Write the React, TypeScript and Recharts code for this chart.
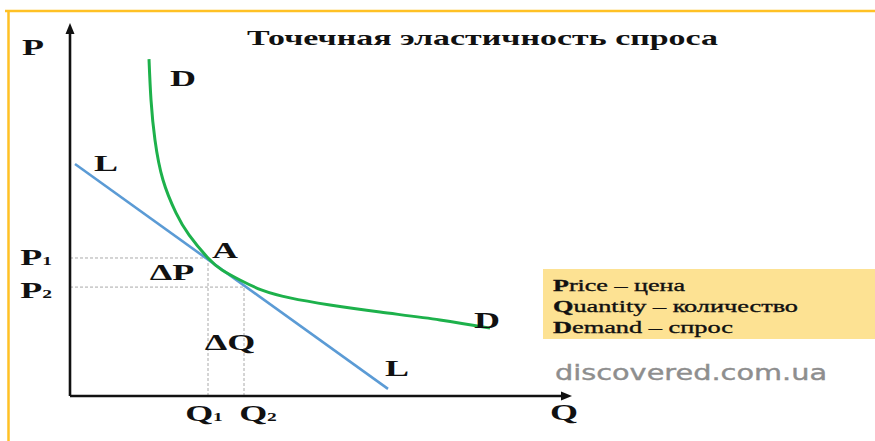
import { ComposedChart, Line, XAxis, YAxis, ReferenceLine, ReferenceDot } from 'recharts';

// point A and its neighbour on the tangent
const q1 = 2.76;
const q2 = 3.48;
const p1 = 3.7;
const p2 = 2.92;

// demand curve D
const demandQ = [1.58, 1.62, 1.7, 1.86, 2.12, 2.38, 2.76, 3.04, 3.4, 3.84, 4.4, 5.2, 6.2, 7.4, 8.4];
const demandP = [9.03, 7.94, 6.86, 5.79, 4.91, 4.32, 3.7, 3.38, 3.11, 2.84, 2.63, 2.44, 2.25, 2.04, 1.82];

// tangent line L
const tangentQ = [0.1, 6.36];
const tangentP = [6.22, 0.19];

const qTicks = [q1, q2];
const qTickNames = ['1', '2'];
const pTicks = [p2, p1];
const pTickNames = ['2', '1'];

const legendTerms = ['Price', 'Quantity', 'Demand'];
const legendWords = ['цена', 'количество', 'спрос'];

const demandData = demandQ.map((q, i) => ({ q, p: demandP[i] }));
const tangentData = tangentQ.map((q, i) => ({ q, p: tangentP[i] }));

const serif = "'Liberation Serif', 'Times New Roman', serif";
const ink = '#111';

const Tag = ({ x, y, text, sub, anchor = 'middle' }: any) => (
  <g transform={`translate(${x},${y}) scale(1.5,1)`}>
    <text
      textAnchor={anchor}
      dominantBaseline="central"
      fontFamily={serif}
      fontWeight="bold"
      fontSize={24}
      fill={ink}
    >
      {text}
      {sub && (
        <tspan fontSize={13} dy={3}>
          {sub}
        </tspan>
      )}
    </text>
  </g>
);

const dotTag = (text: string, dx: number, dy: number) => (props: any) =>
  <Tag x={props.cx + dx} y={props.cy + dy} text={text} />;

const Arrow = ({ x1, y1, x2, y2 }: any) => {
  const ang = Math.atan2(y2 - y1, x2 - x1);
  const len = 11;
  const half = 4.5;
  const bx = x2 - len * Math.cos(ang);
  const by = y2 - len * Math.sin(ang);
  const px = -Math.sin(ang) * half;
  const py = Math.cos(ang) * half;
  return (
    <g>
      <line x1={x1} y1={y1} x2={bx} y2={by} stroke={ink} strokeWidth={2.6} />
      <polygon points={`${x2},${y2} ${bx + px},${by + py} ${bx - px},${by - py}`} fill={ink} />
    </g>
  );
};

const QTick = ({ x, y, index }: any) => (
  <Tag x={x + (index === 0 ? -4 : 14)} y={y + 17} text="Q" sub={qTickNames[index]} />
);

const PTick = ({ x, y, index }: any) => (
  <Tag x={x - 18} y={y + (index === 0 ? 3 : -1)} text="P" sub={pTickNames[index]} anchor="end" />
);

const dash = { stroke: '#aaa', strokeWidth: 1, strokeDasharray: '3 2' };

export default function App() {
  return (
    <div style={{ position: 'absolute', left: 0, top: 0, width: 875, height: 441, background: '#fff' }}>
      <ComposedChart
        width={875}
        height={441}
        margin={{ top: 23, right: 305, left: 0, bottom: 0 }}
      >
        <XAxis
          dataKey="q"
          type="number"
          domain={[0, 10]}
          ticks={qTicks}
          axisLine={false}
          tickLine={false}
          tickSize={0}
          tickMargin={0}
          height={45}
          tick={<QTick />}
        />
        <YAxis
          dataKey="p"
          type="number"
          domain={[0, 10]}
          ticks={pTicks}
          axisLine={false}
          tickLine={false}
          tickSize={0}
          tickMargin={0}
          width={70}
          tick={<PTick />}
        />

        <ReferenceLine segment={[{ x: 0, y: p1 }, { x: q1, y: p1 }]} {...dash} />
        <ReferenceLine segment={[{ x: 0, y: p2 }, { x: q2, y: p2 }]} {...dash} />
        <ReferenceLine segment={[{ x: q1, y: 0 }, { x: q1, y: p1 }]} {...dash} />
        <ReferenceLine segment={[{ x: q2, y: 0 }, { x: q2, y: p2 }]} {...dash} />

        <Line
          data={tangentData}
          dataKey="p"
          type="linear"
          stroke="#5b9bd5"
          strokeWidth={2.6}
          dot={false}
          activeDot={false}
          isAnimationActive={false}
        />
        <Line
          data={demandData}
          dataKey="p"
          type="natural"
          stroke="#1db14b"
          strokeWidth={3}
          dot={false}
          activeDot={false}
          isAnimationActive={false}
        />

        <ReferenceLine segment={[{ x: 0, y: 0 }, { x: 10, y: 0 }]} shape={(p: any) => <Arrow {...p} x2={p.x2 + 2} />} />
        <ReferenceLine segment={[{ x: 0, y: 0 }, { x: 0, y: 10 }]} shape={(p: any) => <Arrow {...p} />} />

        <ReferenceDot x={demandQ[0]} y={demandP[0]} r={0} shape={dotTag('D', 34, 19)} />
        <ReferenceDot x={demandQ[demandQ.length - 1]} y={demandP[demandP.length - 1]} r={0} shape={dotTag('D', -3, -8)} />
        <ReferenceDot x={tangentQ[0]} y={tangentP[0]} r={0} shape={dotTag('L', 31, -1)} />
        <ReferenceDot x={tangentQ[1]} y={tangentP[1]} r={0} shape={dotTag('L', 9, -21)} />
        <ReferenceDot x={q1} y={p1} r={0} shape={dotTag('A', 17, -8)} />
        <ReferenceDot x={q1} y={(p1 + p2) / 2} r={0} shape={dotTag('ΔP', -36, 0)} />
        <ReferenceDot x={(q1 + q2) / 2} y={0} r={0} shape={dotTag('ΔQ', 4, -54)} />
        <ReferenceDot x={10} y={0} r={0} shape={dotTag('Q', -6, 16)} />
        <ReferenceDot x={0} y={10} r={0} shape={dotTag('P', -37, 24)} />
      </ComposedChart>

      <svg
        width={875}
        height={441}
        style={{ position: 'absolute', left: 0, top: 0, pointerEvents: 'none' }}
      >
        <line x1={5} y1={11} x2={875} y2={11} stroke="#ffc125" strokeWidth={2.5} />
        <line x1={8.5} y1={10} x2={8.5} y2={441} stroke="#ffc125" strokeWidth={2.5} />

        <text
          x={247}
          y={37}
          textLength={471}
          lengthAdjust="spacingAndGlyphs"
          dominantBaseline="central"
          fontFamily={serif}
          fontWeight="bold"
          fontSize={22}
          fill={ink}
        >
          Точечная эластичность спроса
        </text>

        <rect x={543} y={269} width={332} height={70} fill="#fde293" />
        {legendTerms.map((term, i) => (
          <text
            key={term}
            x={553}
            y={285 + i * 21}
            textLength={[132, 245, 180][i]}
            lengthAdjust="spacingAndGlyphs"
            dominantBaseline="central"
            fontFamily={serif}
            fontSize={17}
            fill={ink}
            stroke={ink}
            strokeWidth={0.35}
          >
            <tspan fontFamily={serif} fontWeight="bold">{term[0]}</tspan>
            <tspan fontFamily={serif}>{`${term.slice(1)} – ${legendWords[i]}`}</tspan>
          </text>
        ))}

        <text
          x={555}
          y={372}
          textLength={272}
          lengthAdjust="spacingAndGlyphs"
          dominantBaseline="central"
          fontFamily="'DejaVu Sans', sans-serif"
          fontSize={22}
          fill="#8e8e8e"
          stroke="#8e8e8e"
          strokeWidth={0.4}
        >
          discovered.com.ua
        </text>
      </svg>
    </div>
  );
}
